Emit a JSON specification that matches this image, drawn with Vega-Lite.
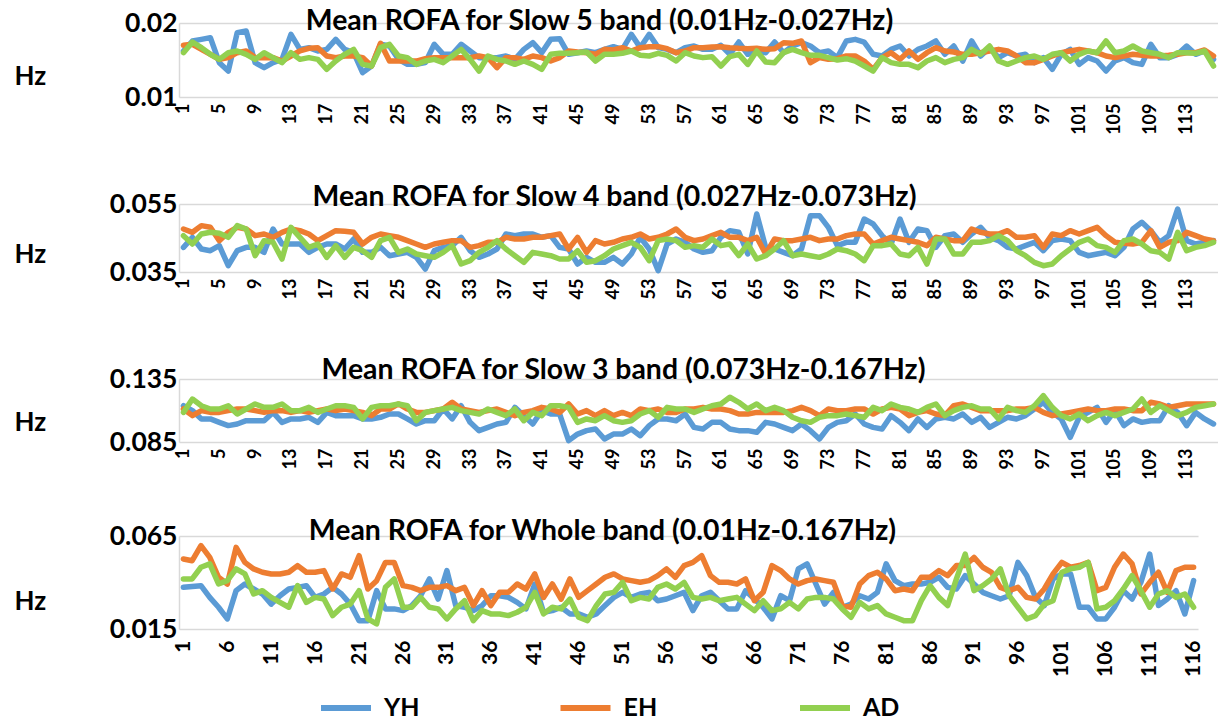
{
  "$schema": "https://vega.github.io/schema/vega-lite/v6.json",
  "padding": {"left": 14, "top": 6, "right": 0, "bottom": 0},
  "spacing": 36,
  "datasets": {
    "slow5": [
      {"n":1,"YH":0.01622,"EH":0.01698,"AD":0.01599},{"n":2,"YH":0.01757,"EH":0.01712,"AD":0.01743},{"n":3,"YH":0.01779,"EH":0.01644,"AD":0.01667},{"n":4,"YH":0.01802,"EH":0.01577,"AD":0.01577},{"n":5,"YH":0.01464,"EH":0.01509,"AD":0.01509},{"n":6,"YH":0.01351,"EH":0.01532,"AD":0.01599},{"n":7,"YH":0.01869,"EH":0.01599,"AD":0.01622},{"n":8,"YH":0.01892,"EH":0.01622,"AD":0.01577},{"n":9,"YH":0.01464,"EH":0.01532,"AD":0.01509},{"n":10,"YH":0.01396,"EH":0.01532,"AD":0.01599},
      {"n":11,"YH":0.01464,"EH":0.01532,"AD":0.01532},{"n":12,"YH":0.01509,"EH":0.01486,"AD":0.01464},{"n":13,"YH":0.01847,"EH":0.01554,"AD":0.01599},{"n":14,"YH":0.01644,"EH":0.01622,"AD":0.01509},{"n":15,"YH":0.01667,"EH":0.01658,"AD":0.01532},{"n":16,"YH":0.01622,"EH":0.01667,"AD":0.01509},{"n":17,"YH":0.01644,"EH":0.01554,"AD":0.01374},{"n":18,"YH":0.01779,"EH":0.01532,"AD":0.01486},{"n":19,"YH":0.01644,"EH":0.01554,"AD":0.01577},{"n":20,"YH":0.01599,"EH":0.01554,"AD":0.01644},
      {"n":21,"YH":0.01329,"EH":0.01532,"AD":0.01441},{"n":22,"YH":0.01419,"EH":0.01419,"AD":0.01419},{"n":23,"YH":0.01712,"EH":0.01725,"AD":0.01667},{"n":24,"YH":0.01689,"EH":0.01486,"AD":0.01712},{"n":25,"YH":0.01509,"EH":0.01486,"AD":0.01554},{"n":26,"YH":0.01441,"EH":0.01486,"AD":0.01532},{"n":27,"YH":0.01441,"EH":0.01486,"AD":0.01441},{"n":28,"YH":0.01464,"EH":0.01518,"AD":0.01486},{"n":29,"YH":0.01712,"EH":0.01532,"AD":0.01509},{"n":30,"YH":0.01577,"EH":0.01532,"AD":0.01464},
      {"n":31,"YH":0.01577,"EH":0.01532,"AD":0.01554},{"n":32,"YH":0.01712,"EH":0.01532,"AD":0.01644},{"n":33,"YH":0.01622,"EH":0.01532,"AD":0.01509},{"n":34,"YH":0.01532,"EH":0.01554,"AD":0.01351},{"n":35,"YH":0.01532,"EH":0.01532,"AD":0.01554},{"n":36,"YH":0.01532,"EH":0.01396,"AD":0.01509},{"n":37,"YH":0.01554,"EH":0.01532,"AD":0.01486},{"n":38,"YH":0.01509,"EH":0.01532,"AD":0.01441},{"n":39,"YH":0.01644,"EH":0.01509,"AD":0.01486},{"n":40,"YH":0.01734,"EH":0.01554,"AD":0.01441},
      {"n":41,"YH":0.01599,"EH":0.01532,"AD":0.01374},{"n":42,"YH":0.01779,"EH":0.01486,"AD":0.01577},{"n":43,"YH":0.01788,"EH":0.01532,"AD":0.0159},{"n":44,"YH":0.01577,"EH":0.01622,"AD":0.0159},{"n":45,"YH":0.01599,"EH":0.01608,"AD":0.01599},{"n":46,"YH":0.01622,"EH":0.01599,"AD":0.01608},{"n":47,"YH":0.01599,"EH":0.01577,"AD":0.01486},{"n":48,"YH":0.01644,"EH":0.01644,"AD":0.01577},{"n":49,"YH":0.0168,"EH":0.01635,"AD":0.01577},{"n":50,"YH":0.01644,"EH":0.01667,"AD":0.0159},
      {"n":51,"YH":0.01847,"EH":0.01622,"AD":0.01622},{"n":52,"YH":0.01667,"EH":0.01667,"AD":0.01563},{"n":53,"YH":0.01847,"EH":0.0168,"AD":0.01554},{"n":54,"YH":0.01667,"EH":0.0168,"AD":0.0159},{"n":55,"YH":0.01644,"EH":0.01653,"AD":0.01563},{"n":56,"YH":0.01599,"EH":0.01599,"AD":0.01486},{"n":57,"YH":0.01667,"EH":0.01622,"AD":0.01599},{"n":58,"YH":0.01689,"EH":0.01667,"AD":0.01554},{"n":59,"YH":0.01644,"EH":0.01667,"AD":0.01532},{"n":60,"YH":0.01644,"EH":0.01676,"AD":0.01545},
      {"n":61,"YH":0.01698,"EH":0.0168,"AD":0.01419},{"n":62,"YH":0.01577,"EH":0.01667,"AD":0.01545},{"n":63,"YH":0.01743,"EH":0.01658,"AD":0.01577},{"n":64,"YH":0.01577,"EH":0.01653,"AD":0.01441},{"n":65,"YH":0.01622,"EH":0.01658,"AD":0.01622},{"n":66,"YH":0.01599,"EH":0.01644,"AD":0.01473},{"n":67,"YH":0.01743,"EH":0.01653,"AD":0.01464},{"n":68,"YH":0.01599,"EH":0.01734,"AD":0.01599},{"n":69,"YH":0.01689,"EH":0.01725,"AD":0.01644},{"n":70,"YH":0.01734,"EH":0.01757,"AD":0.01599},
      {"n":71,"YH":0.01689,"EH":0.01464,"AD":0.01563},{"n":72,"YH":0.01599,"EH":0.01532,"AD":0.01563},{"n":73,"YH":0.01622,"EH":0.01509,"AD":0.01532},{"n":74,"YH":0.01532,"EH":0.01518,"AD":0.015},{"n":75,"YH":0.01757,"EH":0.01554,"AD":0.01518},{"n":76,"YH":0.01779,"EH":0.01554,"AD":0.01486},{"n":77,"YH":0.01743,"EH":0.01486,"AD":0.01419},{"n":78,"YH":0.01577,"EH":0.01374,"AD":0.01351},{"n":79,"YH":0.01554,"EH":0.01532,"AD":0.01532},{"n":80,"YH":0.01644,"EH":0.01599,"AD":0.01464},
      {"n":81,"YH":0.01689,"EH":0.01509,"AD":0.01441},{"n":82,"YH":0.01554,"EH":0.01622,"AD":0.01441},{"n":83,"YH":0.01644,"EH":0.01509,"AD":0.01396},{"n":84,"YH":0.01689,"EH":0.01599,"AD":0.01486},{"n":85,"YH":0.01757,"EH":0.01667,"AD":0.01532},{"n":86,"YH":0.01577,"EH":0.01622,"AD":0.01464},{"n":87,"YH":0.01689,"EH":0.01608,"AD":0.01509},{"n":88,"YH":0.01486,"EH":0.01577,"AD":0.01532},{"n":89,"YH":0.01757,"EH":0.01577,"AD":0.01644},{"n":90,"YH":0.01554,"EH":0.01599,"AD":0.01577},
      {"n":91,"YH":0.01667,"EH":0.01622,"AD":0.01689},{"n":92,"YH":0.01532,"EH":0.01644,"AD":0.01486},{"n":93,"YH":0.01599,"EH":0.01622,"AD":0.01441},{"n":94,"YH":0.01554,"EH":0.01554,"AD":0.01486},{"n":95,"YH":0.01577,"EH":0.01464,"AD":0.01532},{"n":96,"YH":0.01464,"EH":0.01464,"AD":0.01554},{"n":97,"YH":0.01532,"EH":0.01509,"AD":0.01509},{"n":98,"YH":0.01374,"EH":0.01554,"AD":0.01577},{"n":99,"YH":0.01577,"EH":0.01599,"AD":0.01599},{"n":100,"YH":0.01644,"EH":0.01622,"AD":0.01486},
      {"n":101,"YH":0.01441,"EH":0.01644,"AD":0.01577},{"n":102,"YH":0.01532,"EH":0.01622,"AD":0.01622},{"n":103,"YH":0.01486,"EH":0.01599,"AD":0.01599},{"n":104,"YH":0.01351,"EH":0.01554,"AD":0.01757},{"n":105,"YH":0.01486,"EH":0.01532,"AD":0.01599},{"n":106,"YH":0.01532,"EH":0.01554,"AD":0.01622},{"n":107,"YH":0.01464,"EH":0.01577,"AD":0.01689},{"n":108,"YH":0.01441,"EH":0.01563,"AD":0.01622},{"n":109,"YH":0.01712,"EH":0.01554,"AD":0.01599},{"n":110,"YH":0.01532,"EH":0.01554,"AD":0.01577},
      {"n":111,"YH":0.01532,"EH":0.01563,"AD":0.01532},{"n":112,"YH":0.01577,"EH":0.01577,"AD":0.01599},{"n":113,"YH":0.01689,"EH":0.01599,"AD":0.01599},{"n":114,"YH":0.01577,"EH":0.01599,"AD":0.0159},{"n":115,"YH":0.01622,"EH":0.01635,"AD":0.01622},{"n":116,"YH":0.01509,"EH":0.01554,"AD":0.01419}
    ],
    "slow4": [
      {"n":1,"YH":0.04225,"EH":0.04765,"AD":0.04569},{"n":2,"YH":0.0452,"EH":0.04667,"AD":0.04324},{"n":3,"YH":0.04176,"EH":0.04863,"AD":0.04618},{"n":4,"YH":0.04127,"EH":0.04814,"AD":0.04667},{"n":5,"YH":0.04275,"EH":0.04422,"AD":0.04637},{"n":6,"YH":0.03686,"EH":0.04667,"AD":0.0452},{"n":7,"YH":0.04127,"EH":0.04814,"AD":0.04863},{"n":8,"YH":0.04225,"EH":0.04765,"AD":0.04765},{"n":9,"YH":0.04225,"EH":0.04569,"AD":0.0398},{"n":10,"YH":0.04078,"EH":0.04618,"AD":0.04422},
      {"n":11,"YH":0.04765,"EH":0.0452,"AD":0.04373},{"n":12,"YH":0.04324,"EH":0.04667,"AD":0.03882},{"n":13,"YH":0.04324,"EH":0.04765,"AD":0.04814},{"n":14,"YH":0.04324,"EH":0.04716,"AD":0.0452},{"n":15,"YH":0.04078,"EH":0.04618,"AD":0.04225},{"n":16,"YH":0.04225,"EH":0.04422,"AD":0.04324},{"n":17,"YH":0.04324,"EH":0.04569,"AD":0.03931},{"n":18,"YH":0.04324,"EH":0.04716,"AD":0.04275},{"n":19,"YH":0.04176,"EH":0.04696,"AD":0.03931},{"n":20,"YH":0.04471,"EH":0.04667,"AD":0.04225},
      {"n":21,"YH":0.04078,"EH":0.04324,"AD":0.04127},{"n":22,"YH":0.04078,"EH":0.0452,"AD":0.03931},{"n":23,"YH":0.04225,"EH":0.04618,"AD":0.04422},{"n":24,"YH":0.0398,"EH":0.04569,"AD":0.0452},{"n":25,"YH":0.04029,"EH":0.0452,"AD":0.04078},{"n":26,"YH":0.04078,"EH":0.04422,"AD":0.04176},{"n":27,"YH":0.03931,"EH":0.04324,"AD":0.04029},{"n":28,"YH":0.03588,"EH":0.04225,"AD":0.0398},{"n":29,"YH":0.04127,"EH":0.04324,"AD":0.03931},{"n":30,"YH":0.04225,"EH":0.04373,"AD":0.04078},
      {"n":31,"YH":0.04275,"EH":0.04422,"AD":0.04275},{"n":32,"YH":0.0452,"EH":0.04422,"AD":0.03735},{"n":33,"YH":0.04127,"EH":0.04225,"AD":0.03833},{"n":34,"YH":0.03931,"EH":0.04275,"AD":0.04078},{"n":35,"YH":0.04029,"EH":0.04373,"AD":0.04225},{"n":36,"YH":0.04176,"EH":0.04373,"AD":0.04422},{"n":37,"YH":0.04618,"EH":0.0452,"AD":0.04176},{"n":38,"YH":0.04569,"EH":0.04471,"AD":0.0398},{"n":39,"YH":0.04618,"EH":0.04471,"AD":0.03784},{"n":40,"YH":0.04618,"EH":0.0452,"AD":0.04078},
      {"n":41,"YH":0.0452,"EH":0.0452,"AD":0.04029},{"n":42,"YH":0.04569,"EH":0.04569,"AD":0.0398},{"n":43,"YH":0.04225,"EH":0.04618,"AD":0.03882},{"n":44,"YH":0.04176,"EH":0.04176,"AD":0.03882},{"n":45,"YH":0.03735,"EH":0.0452,"AD":0.04127},{"n":46,"YH":0.03931,"EH":0.04078,"AD":0.03784},{"n":47,"YH":0.03784,"EH":0.04422,"AD":0.03833},{"n":48,"YH":0.03784,"EH":0.04324,"AD":0.0398},{"n":49,"YH":0.03931,"EH":0.04373,"AD":0.04176},{"n":50,"YH":0.03735,"EH":0.04471,"AD":0.04275},
      {"n":51,"YH":0.04029,"EH":0.0452,"AD":0.04373},{"n":52,"YH":0.0452,"EH":0.04618,"AD":0.04225},{"n":53,"YH":0.04176,"EH":0.04471,"AD":0.03833},{"n":54,"YH":0.03539,"EH":0.0452,"AD":0.04422},{"n":55,"YH":0.04324,"EH":0.04618,"AD":0.04471},{"n":56,"YH":0.04471,"EH":0.04765,"AD":0.04422},{"n":57,"YH":0.04373,"EH":0.0452,"AD":0.04225},{"n":58,"YH":0.04176,"EH":0.04422,"AD":0.04275},{"n":59,"YH":0.04078,"EH":0.04471,"AD":0.04225},{"n":60,"YH":0.04127,"EH":0.04569,"AD":0.04471},
      {"n":61,"YH":0.0452,"EH":0.04667,"AD":0.04275},{"n":62,"YH":0.04716,"EH":0.0452,"AD":0.04324},{"n":63,"YH":0.04667,"EH":0.0452,"AD":0.0398},{"n":64,"YH":0.04029,"EH":0.04422,"AD":0.04324},{"n":65,"YH":0.05206,"EH":0.0452,"AD":0.03882},{"n":66,"YH":0.04225,"EH":0.04029,"AD":0.0398},{"n":67,"YH":0.04176,"EH":0.04471,"AD":0.04176},{"n":68,"YH":0.04078,"EH":0.04422,"AD":0.04422},{"n":69,"YH":0.0398,"EH":0.04422,"AD":0.0398},{"n":70,"YH":0.04176,"EH":0.04471,"AD":0.04029},
      {"n":71,"YH":0.05157,"EH":0.0452,"AD":0.0398},{"n":72,"YH":0.05157,"EH":0.04422,"AD":0.03931},{"n":73,"YH":0.04814,"EH":0.04471,"AD":0.04029},{"n":74,"YH":0.04275,"EH":0.04471,"AD":0.04176},{"n":75,"YH":0.04373,"EH":0.04569,"AD":0.04127},{"n":76,"YH":0.04373,"EH":0.04618,"AD":0.04029},{"n":77,"YH":0.05059,"EH":0.04618,"AD":0.03833},{"n":78,"YH":0.04912,"EH":0.04324,"AD":0.04275},{"n":79,"YH":0.04569,"EH":0.04422,"AD":0.04275},{"n":80,"YH":0.04324,"EH":0.0452,"AD":0.04324},
      {"n":81,"YH":0.05059,"EH":0.04471,"AD":0.04029},{"n":82,"YH":0.04373,"EH":0.04422,"AD":0.0398},{"n":83,"YH":0.04765,"EH":0.04373,"AD":0.04225},{"n":84,"YH":0.04716,"EH":0.04275,"AD":0.03735},{"n":85,"YH":0.04225,"EH":0.0452,"AD":0.04471},{"n":86,"YH":0.04569,"EH":0.04471,"AD":0.04471},{"n":87,"YH":0.04618,"EH":0.04422,"AD":0.04029},{"n":88,"YH":0.04373,"EH":0.04422,"AD":0.04029},{"n":89,"YH":0.04618,"EH":0.04765,"AD":0.04373},{"n":90,"YH":0.04814,"EH":0.04667,"AD":0.04373},
      {"n":91,"YH":0.0452,"EH":0.04618,"AD":0.04422},{"n":92,"YH":0.04422,"EH":0.04618,"AD":0.04569},{"n":93,"YH":0.04225,"EH":0.04716,"AD":0.04422},{"n":94,"YH":0.04176,"EH":0.0452,"AD":0.04127},{"n":95,"YH":0.04275,"EH":0.0452,"AD":0.0398},{"n":96,"YH":0.04373,"EH":0.04569,"AD":0.03784},{"n":97,"YH":0.04127,"EH":0.04225,"AD":0.03686},{"n":98,"YH":0.04422,"EH":0.04618,"AD":0.03735},{"n":99,"YH":0.04471,"EH":0.04569,"AD":0.0398},{"n":100,"YH":0.04422,"EH":0.04716,"AD":0.04176},
      {"n":101,"YH":0.04078,"EH":0.04618,"AD":0.04373},{"n":102,"YH":0.0398,"EH":0.04716,"AD":0.04471},{"n":103,"YH":0.04029,"EH":0.04814,"AD":0.04275},{"n":104,"YH":0.04078,"EH":0.04569,"AD":0.04225},{"n":105,"YH":0.0398,"EH":0.04373,"AD":0.04078},{"n":106,"YH":0.04225,"EH":0.04343,"AD":0.04422},{"n":107,"YH":0.04765,"EH":0.04324,"AD":0.04471},{"n":108,"YH":0.04961,"EH":0.04373,"AD":0.04324},{"n":109,"YH":0.04716,"EH":0.04716,"AD":0.04127},{"n":110,"YH":0.04373,"EH":0.04225,"AD":0.04078},
      {"n":111,"YH":0.04569,"EH":0.04373,"AD":0.03882},{"n":112,"YH":0.05353,"EH":0.04422,"AD":0.04667},{"n":113,"YH":0.04422,"EH":0.04667,"AD":0.04127},{"n":114,"YH":0.04324,"EH":0.04569,"AD":0.04225},{"n":115,"YH":0.04373,"EH":0.04471,"AD":0.04275},{"n":116,"YH":0.04422,"EH":0.04422,"AD":0.04373}
    ],
    "slow3": [
      {"n":1,"YH":0.1138,"EH":0.1112,"AD":0.1085},{"n":2,"YH":0.1099,"EH":0.1059,"AD":0.1191},{"n":3,"YH":0.1033,"EH":0.1099,"AD":0.1138},{"n":4,"YH":0.1033,"EH":0.1085,"AD":0.1112},{"n":5,"YH":0.1006,"EH":0.1085,"AD":0.1112},{"n":6,"YH":0.098,"EH":0.1099,"AD":0.1138},{"n":7,"YH":0.0993,"EH":0.1112,"AD":0.1072},{"n":8,"YH":0.1019,"EH":0.1112,"AD":0.1112},{"n":9,"YH":0.1019,"EH":0.1099,"AD":0.1152},{"n":10,"YH":0.1019,"EH":0.1085,"AD":0.1125},
      {"n":11,"YH":0.1085,"EH":0.1099,"AD":0.1125},{"n":12,"YH":0.1006,"EH":0.1099,"AD":0.1152},{"n":13,"YH":0.1033,"EH":0.1085,"AD":0.1099},{"n":14,"YH":0.1033,"EH":0.1099,"AD":0.1099},{"n":15,"YH":0.1046,"EH":0.1085,"AD":0.1125},{"n":16,"YH":0.1006,"EH":0.1099,"AD":0.1085},{"n":17,"YH":0.1085,"EH":0.1112,"AD":0.1112},{"n":18,"YH":0.1059,"EH":0.1099,"AD":0.1138},{"n":19,"YH":0.1059,"EH":0.1112,"AD":0.1138},{"n":20,"YH":0.1059,"EH":0.1099,"AD":0.1125},
      {"n":21,"YH":0.1033,"EH":0.1085,"AD":0.1033},{"n":22,"YH":0.1033,"EH":0.1059,"AD":0.1125},{"n":23,"YH":0.1046,"EH":0.1112,"AD":0.1138},{"n":24,"YH":0.1072,"EH":0.1112,"AD":0.1138},{"n":25,"YH":0.1072,"EH":0.1152,"AD":0.1152},{"n":26,"YH":0.1033,"EH":0.1112,"AD":0.1138},{"n":27,"YH":0.0993,"EH":0.1085,"AD":0.1019},{"n":28,"YH":0.1019,"EH":0.1085,"AD":0.1085},{"n":29,"YH":0.1019,"EH":0.1099,"AD":0.1099},{"n":30,"YH":0.1112,"EH":0.1112,"AD":0.1112},
      {"n":31,"YH":0.1033,"EH":0.1165,"AD":0.1125},{"n":32,"YH":0.1138,"EH":0.1112,"AD":0.1099},{"n":33,"YH":0.1006,"EH":0.1099,"AD":0.1085},{"n":34,"YH":0.094,"EH":0.1085,"AD":0.1072},{"n":35,"YH":0.0966,"EH":0.1099,"AD":0.1112},{"n":36,"YH":0.0993,"EH":0.1112,"AD":0.1085},{"n":37,"YH":0.1006,"EH":0.1085,"AD":0.1059},{"n":38,"YH":0.1125,"EH":0.1059,"AD":0.1112},{"n":39,"YH":0.1059,"EH":0.1085,"AD":0.1019},{"n":40,"YH":0.0993,"EH":0.1099,"AD":0.1085},
      {"n":41,"YH":0.1099,"EH":0.1125,"AD":0.1059},{"n":42,"YH":0.1072,"EH":0.1112,"AD":0.1138},{"n":43,"YH":0.1072,"EH":0.1085,"AD":0.1138},{"n":44,"YH":0.0861,"EH":0.1152,"AD":0.1125},{"n":45,"YH":0.0913,"EH":0.1072,"AD":0.1006},{"n":46,"YH":0.094,"EH":0.1099,"AD":0.1033},{"n":47,"YH":0.0953,"EH":0.1059,"AD":0.1019},{"n":48,"YH":0.0874,"EH":0.1099,"AD":0.1059},{"n":49,"YH":0.0913,"EH":0.1059,"AD":0.1019},{"n":50,"YH":0.0913,"EH":0.1085,"AD":0.1006},
      {"n":51,"YH":0.0953,"EH":0.1059,"AD":0.1019},{"n":52,"YH":0.09,"EH":0.1112,"AD":0.1072},{"n":53,"YH":0.098,"EH":0.1099,"AD":0.1099},{"n":54,"YH":0.1033,"EH":0.1112,"AD":0.1046},{"n":55,"YH":0.1033,"EH":0.1085,"AD":0.1125},{"n":56,"YH":0.1019,"EH":0.1085,"AD":0.1112},{"n":57,"YH":0.1072,"EH":0.1112,"AD":0.1112},{"n":58,"YH":0.0966,"EH":0.1112,"AD":0.1085},{"n":59,"YH":0.0953,"EH":0.1125,"AD":0.1112},{"n":60,"YH":0.1006,"EH":0.1112,"AD":0.1138},
      {"n":61,"YH":0.1006,"EH":0.1112,"AD":0.1152},{"n":62,"YH":0.0953,"EH":0.1099,"AD":0.1205},{"n":63,"YH":0.094,"EH":0.1072,"AD":0.1165},{"n":64,"YH":0.094,"EH":0.1072,"AD":0.1112},{"n":65,"YH":0.0927,"EH":0.1085,"AD":0.1152},{"n":66,"YH":0.1006,"EH":0.1085,"AD":0.1099},{"n":67,"YH":0.0993,"EH":0.1085,"AD":0.1125},{"n":68,"YH":0.0966,"EH":0.1085,"AD":0.1099},{"n":69,"YH":0.094,"EH":0.1099,"AD":0.1046},{"n":70,"YH":0.0993,"EH":0.1125,"AD":0.1019},
      {"n":71,"YH":0.094,"EH":0.1099,"AD":0.1006},{"n":72,"YH":0.0874,"EH":0.1059,"AD":0.1046},{"n":73,"YH":0.0966,"EH":0.1112,"AD":0.1059},{"n":74,"YH":0.1006,"EH":0.1099,"AD":0.1059},{"n":75,"YH":0.1019,"EH":0.1099,"AD":0.1072},{"n":76,"YH":0.1072,"EH":0.1112,"AD":0.1059},{"n":77,"YH":0.0993,"EH":0.1112,"AD":0.1046},{"n":78,"YH":0.0966,"EH":0.1072,"AD":0.1125},{"n":79,"YH":0.0953,"EH":0.1112,"AD":0.1099},{"n":80,"YH":0.1059,"EH":0.1125,"AD":0.1152},
      {"n":81,"YH":0.1006,"EH":0.1112,"AD":0.1125},{"n":82,"YH":0.094,"EH":0.1059,"AD":0.1112},{"n":83,"YH":0.1033,"EH":0.1085,"AD":0.1085},{"n":84,"YH":0.0966,"EH":0.1099,"AD":0.1125},{"n":85,"YH":0.1033,"EH":0.1072,"AD":0.1152},{"n":86,"YH":0.1046,"EH":0.1059,"AD":0.1059},{"n":87,"YH":0.1033,"EH":0.1138,"AD":0.1099},{"n":88,"YH":0.1072,"EH":0.1152,"AD":0.1125},{"n":89,"YH":0.1006,"EH":0.1125,"AD":0.1138},{"n":90,"YH":0.1046,"EH":0.1099,"AD":0.1112},
      {"n":91,"YH":0.0966,"EH":0.1099,"AD":0.1112},{"n":92,"YH":0.1006,"EH":0.1099,"AD":0.1033},{"n":93,"YH":0.1046,"EH":0.1099,"AD":0.1125},{"n":94,"YH":0.1033,"EH":0.1112,"AD":0.1099},{"n":95,"YH":0.1059,"EH":0.1112,"AD":0.1085},{"n":96,"YH":0.1112,"EH":0.1125,"AD":0.1138},{"n":97,"YH":0.1165,"EH":0.1085,"AD":0.1218},{"n":98,"YH":0.1085,"EH":0.1059,"AD":0.1125},{"n":99,"YH":0.1033,"EH":0.1072,"AD":0.1059},{"n":100,"YH":0.0887,"EH":0.1085,"AD":0.1033},
      {"n":101,"YH":0.1046,"EH":0.1099,"AD":0.1072},{"n":102,"YH":0.1085,"EH":0.1112,"AD":0.1019},{"n":103,"YH":0.1125,"EH":0.1099,"AD":0.1059},{"n":104,"YH":0.1006,"EH":0.1099,"AD":0.1085},{"n":105,"YH":0.1099,"EH":0.1112,"AD":0.1059},{"n":106,"YH":0.098,"EH":0.1112,"AD":0.1085},{"n":107,"YH":0.1033,"EH":0.1099,"AD":0.1112},{"n":108,"YH":0.1006,"EH":0.1099,"AD":0.1191},{"n":109,"YH":0.1019,"EH":0.1165,"AD":0.1085},{"n":110,"YH":0.1019,"EH":0.1152,"AD":0.1138},
      {"n":111,"YH":0.1138,"EH":0.1125,"AD":0.1099},{"n":112,"YH":0.1085,"EH":0.1138,"AD":0.1059},{"n":113,"YH":0.098,"EH":0.1152,"AD":0.1085},{"n":114,"YH":0.1085,"EH":0.1152,"AD":0.1125},{"n":115,"YH":0.1033,"EH":0.1152,"AD":0.1138},{"n":116,"YH":0.0993,"EH":0.1152,"AD":0.1152}
    ],
    "whole": [
      {"n":1,"YH":0.0374,"EH":0.0526,"AD":0.0419},{"n":2,"YH":0.0379,"EH":0.0517,"AD":0.0419},{"n":3,"YH":0.0383,"EH":0.0598,"AD":0.0482},{"n":4,"YH":0.032,"EH":0.0535,"AD":0.05},{"n":5,"YH":0.0267,"EH":0.0428,"AD":0.0392},{"n":6,"YH":0.0204,"EH":0.0392,"AD":0.041},{"n":7,"YH":0.0356,"EH":0.0589,"AD":0.0473},{"n":8,"YH":0.0392,"EH":0.0508,"AD":0.0446},{"n":9,"YH":0.0365,"EH":0.0473,"AD":0.0338},{"n":10,"YH":0.0338,"EH":0.0455,"AD":0.0356},
      {"n":11,"YH":0.0284,"EH":0.0446,"AD":0.032},{"n":12,"YH":0.0329,"EH":0.0446,"AD":0.0293},{"n":13,"YH":0.0365,"EH":0.0455,"AD":0.0267},{"n":14,"YH":0.0374,"EH":0.0491,"AD":0.0383},{"n":15,"YH":0.0383,"EH":0.0455,"AD":0.0293},{"n":16,"YH":0.032,"EH":0.0455,"AD":0.032},{"n":17,"YH":0.0338,"EH":0.0464,"AD":0.0311},{"n":18,"YH":0.0374,"EH":0.0365,"AD":0.0222},{"n":19,"YH":0.0338,"EH":0.0446,"AD":0.0267},{"n":20,"YH":0.0284,"EH":0.0428,"AD":0.0284},
      {"n":21,"YH":0.0195,"EH":0.0544,"AD":0.0356},{"n":22,"YH":0.0195,"EH":0.0365,"AD":0.0204},{"n":23,"YH":0.0356,"EH":0.041,"AD":0.0177},{"n":24,"YH":0.0258,"EH":0.0508,"AD":0.0374},{"n":25,"YH":0.0258,"EH":0.0508,"AD":0.0419},{"n":26,"YH":0.0249,"EH":0.0383,"AD":0.0267},{"n":27,"YH":0.0276,"EH":0.0374,"AD":0.0267},{"n":28,"YH":0.0329,"EH":0.0356,"AD":0.032},{"n":29,"YH":0.0419,"EH":0.0374,"AD":0.0267},{"n":30,"YH":0.0311,"EH":0.0374,"AD":0.0258},
      {"n":31,"YH":0.0464,"EH":0.0383,"AD":0.0204},{"n":32,"YH":0.0276,"EH":0.0356,"AD":0.0258},{"n":33,"YH":0.0267,"EH":0.0374,"AD":0.0302},{"n":34,"YH":0.0249,"EH":0.0276,"AD":0.0195},{"n":35,"YH":0.0276,"EH":0.0356,"AD":0.0249},{"n":36,"YH":0.0329,"EH":0.0276,"AD":0.0231},{"n":37,"YH":0.0329,"EH":0.0347,"AD":0.0231},{"n":38,"YH":0.032,"EH":0.0347,"AD":0.0222},{"n":39,"YH":0.0293,"EH":0.0392,"AD":0.024},{"n":40,"YH":0.0258,"EH":0.0365,"AD":0.0267},
      {"n":41,"YH":0.0392,"EH":0.0446,"AD":0.0347},{"n":42,"YH":0.024,"EH":0.032,"AD":0.0231},{"n":43,"YH":0.0249,"EH":0.0392,"AD":0.0267},{"n":44,"YH":0.0267,"EH":0.0311,"AD":0.0258},{"n":45,"YH":0.0231,"EH":0.0419,"AD":0.0311},{"n":46,"YH":0.0231,"EH":0.032,"AD":0.0213},{"n":47,"YH":0.0213,"EH":0.0356,"AD":0.0195},{"n":48,"YH":0.0231,"EH":0.0392,"AD":0.0276},{"n":49,"YH":0.0276,"EH":0.0428,"AD":0.0338},{"n":50,"YH":0.032,"EH":0.0446,"AD":0.0347},
      {"n":51,"YH":0.0347,"EH":0.0419,"AD":0.0401},{"n":52,"YH":0.032,"EH":0.041,"AD":0.0302},{"n":53,"YH":0.0338,"EH":0.0401,"AD":0.032},{"n":54,"YH":0.0347,"EH":0.041,"AD":0.0311},{"n":55,"YH":0.0302,"EH":0.0437,"AD":0.0374},{"n":56,"YH":0.0311,"EH":0.0473,"AD":0.0392},{"n":57,"YH":0.0329,"EH":0.0428,"AD":0.0365},{"n":58,"YH":0.0347,"EH":0.0491,"AD":0.0401},{"n":59,"YH":0.0249,"EH":0.0508,"AD":0.032},{"n":60,"YH":0.0329,"EH":0.0544,"AD":0.0311},
      {"n":61,"YH":0.0347,"EH":0.0437,"AD":0.032},{"n":62,"YH":0.0302,"EH":0.0401,"AD":0.0302},{"n":63,"YH":0.0258,"EH":0.0401,"AD":0.0311},{"n":64,"YH":0.0258,"EH":0.0392,"AD":0.032},{"n":65,"YH":0.0356,"EH":0.0419,"AD":0.0284},{"n":66,"YH":0.0311,"EH":0.0302,"AD":0.0249},{"n":67,"YH":0.0267,"EH":0.0347,"AD":0.0302},{"n":68,"YH":0.0204,"EH":0.0491,"AD":0.0249},{"n":69,"YH":0.0329,"EH":0.0464,"AD":0.0258},{"n":70,"YH":0.0302,"EH":0.0419,"AD":0.0293},
      {"n":71,"YH":0.0473,"EH":0.0392,"AD":0.0258},{"n":72,"YH":0.05,"EH":0.041,"AD":0.0311},{"n":73,"YH":0.0392,"EH":0.0419,"AD":0.032},{"n":74,"YH":0.0284,"EH":0.041,"AD":0.032},{"n":75,"YH":0.0347,"EH":0.0401,"AD":0.0311},{"n":76,"YH":0.0267,"EH":0.0276,"AD":0.0258},{"n":77,"YH":0.0284,"EH":0.0267,"AD":0.0213},{"n":78,"YH":0.0329,"EH":0.0392,"AD":0.0293},{"n":79,"YH":0.0311,"EH":0.0437,"AD":0.0258},{"n":80,"YH":0.0347,"EH":0.0455,"AD":0.0276},
      {"n":81,"YH":0.05,"EH":0.0419,"AD":0.0231},{"n":82,"YH":0.041,"EH":0.0356,"AD":0.0213},{"n":83,"YH":0.0383,"EH":0.0365,"AD":0.0195},{"n":84,"YH":0.0392,"EH":0.0356,"AD":0.0195},{"n":85,"YH":0.0392,"EH":0.0428,"AD":0.0302},{"n":86,"YH":0.0401,"EH":0.0428,"AD":0.0383},{"n":87,"YH":0.0428,"EH":0.0464,"AD":0.032},{"n":88,"YH":0.0374,"EH":0.0437,"AD":0.0276},{"n":89,"YH":0.0365,"EH":0.0491,"AD":0.0419},{"n":90,"YH":0.0437,"EH":0.0491,"AD":0.0553},
      {"n":91,"YH":0.0392,"EH":0.0535,"AD":0.0356},{"n":92,"YH":0.0347,"EH":0.0482,"AD":0.0383},{"n":93,"YH":0.0329,"EH":0.0455,"AD":0.0419},{"n":94,"YH":0.0311,"EH":0.0374,"AD":0.0473},{"n":95,"YH":0.0329,"EH":0.0356,"AD":0.0329},{"n":96,"YH":0.0508,"EH":0.0374,"AD":0.0267},{"n":97,"YH":0.0437,"EH":0.032,"AD":0.0204},{"n":98,"YH":0.032,"EH":0.0311,"AD":0.0222},{"n":99,"YH":0.0276,"EH":0.0365,"AD":0.0284},{"n":100,"YH":0.0419,"EH":0.0446,"AD":0.0302},
      {"n":101,"YH":0.0446,"EH":0.0508,"AD":0.0455},{"n":102,"YH":0.0446,"EH":0.0482,"AD":0.0473},{"n":103,"YH":0.0267,"EH":0.0491,"AD":0.0482},{"n":104,"YH":0.0267,"EH":0.0508,"AD":0.0508},{"n":105,"YH":0.0204,"EH":0.0356,"AD":0.0258},{"n":106,"YH":0.0204,"EH":0.0374,"AD":0.0267},{"n":107,"YH":0.0267,"EH":0.0482,"AD":0.0302},{"n":108,"YH":0.0356,"EH":0.0553,"AD":0.0365},{"n":109,"YH":0.0311,"EH":0.05,"AD":0.0437},{"n":110,"YH":0.0401,"EH":0.0338,"AD":0.0356},
      {"n":111,"YH":0.0553,"EH":0.0401,"AD":0.0267},{"n":112,"YH":0.0276,"EH":0.0455,"AD":0.0338},{"n":113,"YH":0.0311,"EH":0.0347,"AD":0.0356},{"n":114,"YH":0.0356,"EH":0.0464,"AD":0.032},{"n":115,"YH":0.0231,"EH":0.0482,"AD":0.0338},{"n":116,"YH":0.041,"EH":0.0482,"AD":0.0267}
    ]
  },
  "vconcat": [
    {
      "data": {"name": "slow5"},
      "title": {"text": "Mean ROFA for Slow 5 band (0.01Hz-0.027Hz)", "offset": -26, "dx": -99},
      "width": 1039,
      "height": 74,
      "transform": [{"fold": ["YH", "EH", "AD"], "as": ["series", "value"]}],
      "mark": {"type": "line", "strokeWidth": 5.5, "strokeJoin": "round", "strokeCap": "round"},
      "encoding": {
        "x": {"field": "n", "type": "ordinal", "scale": {"type": "point", "padding": 0.5},
              "axis": {"title": " ", "titleFontSize": 12, "titlePadding": 0, "values": [1,5,9,13,17,21,25,29,33,37,41,45,49,53,57,61,65,69,73,77,81,85,89,93,97,101,105,109,113]}},
        "y": {"field": "value", "type": "quantitative", "scale": {"domain": [0.01, 0.02], "nice": false, "zero": false},
              "axis": {"title": "Hz", "titleY": 53, "values": [0.01, 0.02], "format": ".2f"}},
        "color": {"field": "series", "type": "nominal", "sort": ["YH", "EH", "AD"],
                  "scale": {"domain": ["YH", "EH", "AD"], "range": ["#5B9BD5", "#ED7D31", "#92D050"]},
                  "legend": {"orient": "none", "legendX": 139, "legendY": 657, "direction": "horizontal", "title": null}}
      }
    },
    {
      "data": {"name": "slow4"},
      "title": {"text": "Mean ROFA for Slow 4 band (0.027Hz-0.073Hz)", "offset": -21, "dx": -84},
      "width": 1039,
      "height": 68,
      "transform": [{"fold": ["YH", "EH", "AD"], "as": ["series", "value"]}],
      "mark": {"type": "line", "strokeWidth": 5.5, "strokeJoin": "round", "strokeCap": "round"},
      "encoding": {
        "x": {"field": "n", "type": "ordinal", "scale": {"type": "point", "padding": 0.5},
              "axis": {"title": " ", "titleFontSize": 9, "titlePadding": 0, "values": [1,5,9,13,17,21,25,29,33,37,41,45,49,53,57,61,65,69,73,77,81,85,89,93,97,101,105,109,113]}},
        "y": {"field": "value", "type": "quantitative", "scale": {"domain": [0.035, 0.055], "nice": false, "zero": false},
              "axis": {"title": "Hz", "titleY": 50, "values": [0.035, 0.055], "format": ".3f"}},
        "color": {"field": "series", "type": "nominal", "sort": ["YH", "EH", "AD"],
                  "scale": {"domain": ["YH", "EH", "AD"], "range": ["#5B9BD5", "#ED7D31", "#92D050"]},
                  "legend": {"orient": "none", "legendX": 139, "legendY": 657, "direction": "horizontal", "title": null}}
      }
    },
    {
      "data": {"name": "slow3"},
      "title": {"text": "Mean ROFA for Slow 3 band (0.073Hz-0.167Hz)", "offset": -19, "dx": -75},
      "width": 1039,
      "height": 63,
      "transform": [{"fold": ["YH", "EH", "AD"], "as": ["series", "value"]}],
      "mark": {"type": "line", "strokeWidth": 5.5, "strokeJoin": "round", "strokeCap": "round"},
      "encoding": {
        "x": {"field": "n", "type": "ordinal", "scale": {"type": "point", "padding": 0.5},
              "axis": {"title": null, "values": [1,5,9,13,17,21,25,29,33,37,41,45,49,53,57,61,65,69,73,77,81,85,89,93,97,101,105,109,113]}},
        "y": {"field": "value", "type": "quantitative", "scale": {"domain": [0.085, 0.135], "nice": false, "zero": false},
              "axis": {"title": "Hz", "titleY": 43, "values": [0.085, 0.135], "format": ".3f"}},
        "color": {"field": "series", "type": "nominal", "sort": ["YH", "EH", "AD"],
                  "scale": {"domain": ["YH", "EH", "AD"], "range": ["#5B9BD5", "#ED7D31", "#92D050"]},
                  "legend": {"orient": "none", "legendX": 139, "legendY": 657, "direction": "horizontal", "title": null}}
      }
    },
    {
      "data": {"name": "whole"},
      "title": {"text": "Mean ROFA for Whole band (0.01Hz-0.167Hz)", "offset": -23, "dx": -86},
      "width": 1019,
      "height": 93,
      "transform": [{"fold": ["YH", "EH", "AD"], "as": ["series", "value"]}],
      "mark": {"type": "line", "strokeWidth": 5.5, "strokeJoin": "round", "strokeCap": "round"},
      "encoding": {
        "x": {"field": "n", "type": "ordinal", "scale": {"type": "point", "padding": 0.5},
              "axis": {"title": null, "labelPadding": 11, "labelFontSize": 21, "values": [1,6,11,16,21,26,31,36,41,46,51,56,61,66,71,76,81,86,91,96,101,106,111,116]}},
        "y": {"field": "value", "type": "quantitative", "scale": {"domain": [0.015, 0.065], "nice": false, "zero": false},
              "axis": {"title": "Hz", "titleY": 65, "values": [0.015, 0.065], "format": ".3f"}},
        "color": {"field": "series", "type": "nominal", "sort": ["YH", "EH", "AD"],
                  "scale": {"domain": ["YH", "EH", "AD"], "range": ["#5B9BD5", "#ED7D31", "#92D050"]},
                  "legend": {"orient": "none", "legendX": 139, "legendY": 657, "direction": "horizontal", "title": null}}
      }
    }
  ],
  "config": {
    "font": "Lato",
    "view": {"stroke": null},
    "axis": {"labelFont": "Lato", "labelFontWeight": "bold", "labelColor": "#000000", "ticks": false,
             "titleFont": "Lato", "titleColor": "#000000", "titleFontWeight": "bold"},
    "axisX": {"labelAngle": -90, "labelFontSize": 18, "labelPadding": 6, "domain": false, "grid": false, "labelOverlap": false},
    "axisY": {"labelFontSize": 26.5, "labelPadding": 2, "domain": true, "domainColor": "#d9d9d9", "domainWidth": 1.5,
              "grid": true, "gridColor": "#d9d9d9", "gridWidth": 1.5,
              "titleAngle": 0, "titleAlign": "left", "titleBaseline": "middle", "titleX": -165, "titleFontSize": 26},
    "title": {"font": "Lato", "fontSize": 28.4, "fontWeight": "bold", "color": "#000000", "anchor": "middle", "baseline": "bottom"},
    "legend": {"symbolType": "stroke", "symbolStrokeWidth": 6, "symbolSize": 2500, "labelFont": "Lato",
               "labelFontSize": 25, "labelFontWeight": "bold", "labelColor": "#000000", "labelOffset": 10,
               "columnPadding": 127.5, "gridAlign": "all", "padding": 0}
  }
}
